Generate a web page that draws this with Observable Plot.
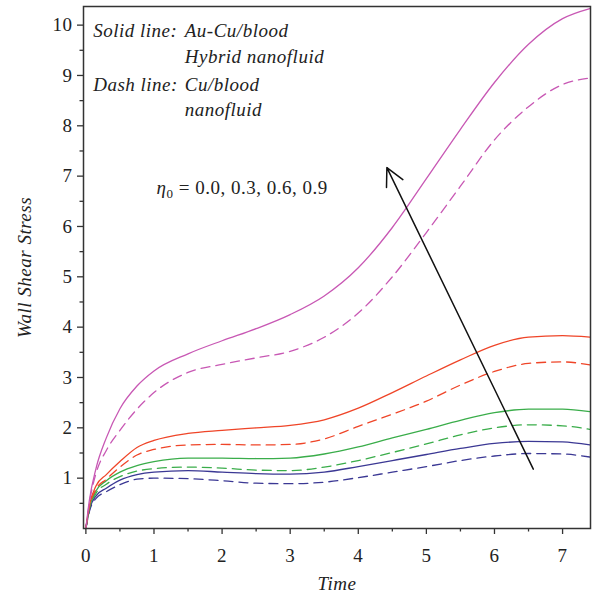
<!DOCTYPE html>
<html><head><meta charset="utf-8">
<script src="https://cdn.jsdelivr.net/npm/d3@7"></script>
<script src="https://cdn.jsdelivr.net/npm/@observablehq/plot@0.6"></script>
<style>body{margin:0;background:#fff} svg text{letter-spacing:0.5px}</style>
</head><body><div id="chart"></div>
<script>
// Time grid
const time = [0, 0.05, 0.15, 0.3, 0.5, 0.75, 1, 1.5, 2, 2.5, 3, 3.5, 4, 4.5, 5, 5.5, 6, 6.5, 7, 7.4];
// Solid lines: Au-Cu/blood hybrid nanofluid
const hybrid_eta00 = [0, 0.36, 0.65, 0.80, 0.96, 1.07, 1.12, 1.15, 1.12, 1.09, 1.08, 1.12, 1.23, 1.35, 1.47, 1.59, 1.69, 1.73, 1.72, 1.66];
const hybrid_eta03 = [0, 0.40, 0.75, 0.95, 1.12, 1.25, 1.33, 1.40, 1.40, 1.39, 1.40, 1.48, 1.62, 1.80, 1.97, 2.15, 2.30, 2.37, 2.37, 2.32];
const hybrid_eta06 = [0, 0.45, 0.85, 1.07, 1.33, 1.61, 1.75, 1.89, 1.95, 2.00, 2.05, 2.16, 2.39, 2.70, 3.03, 3.35, 3.64, 3.80, 3.83, 3.80];
const hybrid_eta09 = [0, 0.55, 1.20, 1.80, 2.38, 2.83, 3.13, 3.47, 3.73, 3.97, 4.25, 4.62, 5.18, 5.98, 6.95, 7.93, 8.86, 9.62, 10.13, 10.33];
// Dashed lines: Cu/blood nanofluid
const cu_eta00 = [0, 0.33, 0.60, 0.73, 0.87, 0.98, 1.00, 0.99, 0.95, 0.90, 0.89, 0.92, 1.01, 1.12, 1.23, 1.35, 1.44, 1.49, 1.48, 1.42];
const cu_eta03 = [0, 0.38, 0.70, 0.88, 1.03, 1.14, 1.19, 1.22, 1.20, 1.16, 1.15, 1.22, 1.35, 1.51, 1.68, 1.86, 2.00, 2.06, 2.04, 1.97];
const cu_eta06 = [0, 0.42, 0.78, 0.98, 1.22, 1.46, 1.57, 1.66, 1.67, 1.66, 1.67, 1.78, 2.03, 2.27, 2.53, 2.85, 3.12, 3.28, 3.31, 3.25];
const cu_eta09 = [0, 0.50, 1.10, 1.55, 1.95, 2.37, 2.70, 3.10, 3.26, 3.39, 3.52, 3.80, 4.28, 5.00, 5.88, 6.80, 7.72, 8.38, 8.82, 8.95];

const etaValues = ["0.0", "0.3", "0.6", "0.9"];
const etaColors = ["#3b3894", "#3aad4a", "#ef4528", "#c858b4"];

const xTicks = [0, 1, 2, 3, 4, 5, 6, 7];
const xMinor = [0.5, 1.5, 2.5, 3.5, 4.5, 5.5, 6.5];
const yTicks = [1, 2, 3, 4, 5, 6, 7, 8, 9, 10];
const yMinor = [0.5, 1.5, 2.5, 3.5, 4.5, 5.5, 6.5, 7.5, 8.5, 9.5];

// Legend / annotation text
const noteText = ["Solid line:", "Au-Cu/blood", "Hybrid nanofluid", "Dash line:", "Cu/blood", "nanofluid"];
const noteX = [0.107, 1.452, 1.452, 0.107, 1.452, 1.452];
const noteY = [9.76, 9.76, 9.24, 8.70, 8.70, 8.20];
const etaLabel = "η0 = 0.0, 0.3, 0.6, 0.9";
const etaLabelPos = {x: 1.037, y: 6.65};
// Arrow (data coordinates)
const arrowFrom = {x: 6.57, y: 1.18};
const arrowTo = {x: 4.42, y: 7.17};

const rows = [];
const series = [
  ["hybrid", "0.0", hybrid_eta00], ["hybrid", "0.3", hybrid_eta03], ["hybrid", "0.6", hybrid_eta06], ["hybrid", "0.9", hybrid_eta09],
  ["cu", "0.0", cu_eta00], ["cu", "0.3", cu_eta03], ["cu", "0.6", cu_eta06], ["cu", "0.9", cu_eta09]
];
for (const [fluid, eta, vals] of series) {
  vals.forEach((v, i) => rows.push({t: time[i], v, eta, fluid, key: fluid + eta}));
}
const notes = noteText.map((text, i) => ({text, x: noteX[i], y: noteY[i]}));

const FONT = "Liberation Serif, Times New Roman, serif";
const AX = "#333";

const plot = Plot.plot({
  width: 592,
  height: 595,
  marginLeft: 83,
  marginRight: 2,
  marginTop: 6,
  marginBottom: 67,
  style: {fontFamily: FONT, background: "#fff", color: "#222"},
  x: {domain: [-0.035, 7.41], label: null},
  y: {domain: [0, 10.37], label: null},
  color: {domain: etaValues, range: etaColors},
  marks: [
    Plot.line(rows.filter(d => d.fluid === "hybrid"), {x: "t", y: "v", z: "key", stroke: "eta", strokeWidth: 1.3, curve: "monotone-x"}),
    Plot.line(rows.filter(d => d.fluid === "cu"), {x: "t", y: "v", z: "key", stroke: "eta", strokeWidth: 1.3, strokeDasharray: "9,6", curve: "monotone-x"}),
    Plot.arrow([{x1: arrowFrom.x, y1: arrowFrom.y, x2: arrowTo.x, y2: arrowTo.y}], {x1: "x1", y1: "y1", x2: "x2", y2: "y2", stroke: "#111", strokeWidth: 1.5, headLength: 20, headAngle: 54}),
    Plot.frame({stroke: AX, strokeWidth: 1.5}),
    Plot.axisX(xTicks, {tickSize: 6, tickPadding: 14, fontSize: 19, stroke: AX, strokeWidth: 1.3, label: null, fill: "#222", tickFormat: d => String(d)}),
    Plot.axisX(xMinor, {tickSize: 3.5, tickFormat: () => "", stroke: AX, strokeWidth: 1.3, label: null}),
    Plot.axisY(yTicks, {tickSize: 6, tickPadding: 5, fontSize: 19, stroke: AX, strokeWidth: 1.3, label: null, fill: "#222", tickFormat: d => String(d)}),
    Plot.axisY(yMinor, {tickSize: 3.5, tickFormat: () => "", stroke: AX, strokeWidth: 1.3, label: null}),
    Plot.text(["Time"], {frameAnchor: "bottom", textAnchor: "middle", lineAnchor: "bottom", dy: 61, fontSize: 19, fontStyle: "italic", fill: "#222"}),
    Plot.text(["Wall Shear Stress"], {frameAnchor: "left", textAnchor: "middle", lineAnchor: "middle", rotate: -90, dx: -59, fontSize: 19, fontStyle: "italic", fill: "#222"}),
    Plot.text(notes, {x: "x", y: "y", text: "text", textAnchor: "start", lineAnchor: "bottom", fontSize: 19, fontStyle: "italic", fill: "#222"}),
    Plot.text([etaLabel], {x: etaLabelPos.x, y: etaLabelPos.y, textAnchor: "start", lineAnchor: "bottom", fontSize: 19, fill: "#222"})
  ]
});

// Render eta subscript with tspans (italic eta, subscript 0)
d3.select(plot).selectAll("text").filter(function() { return this.textContent === etaLabel; }).each(function() {
  const t = d3.select(this);
  t.text(null);
  t.append("tspan").attr("font-style", "italic").text("η");
  t.append("tspan").attr("font-size", "13").attr("dy", "4").text("0");
  t.append("tspan").attr("dy", "-4").text(" = 0.0, 0.3, 0.6, 0.9");
});

document.getElementById("chart").appendChild(plot);
</script></body></html>
